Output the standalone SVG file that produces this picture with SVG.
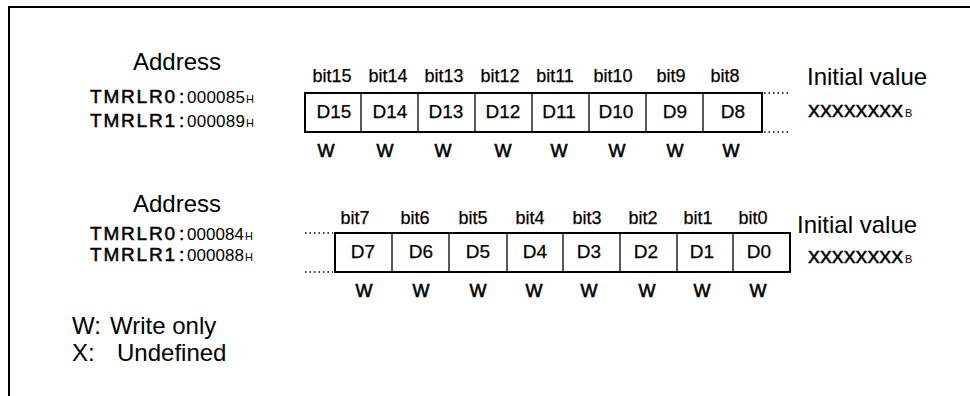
<svg xmlns="http://www.w3.org/2000/svg" width="970" height="396" viewBox="0 0 970 396">
<style>
text{font-family:"Liberation Sans",Arial,sans-serif;fill:#000}
.big{font-size:24px}
.bit{font-size:18px;text-anchor:middle;stroke:#000;stroke-width:0.25}
.d{font-size:19px;text-anchor:middle;stroke:#000;stroke-width:0.25}
.w{font-size:18px;text-anchor:middle;stroke:#000;stroke-width:0.6}
.reg{font-size:19px;stroke:#000;stroke-width:0.5}
.addr{font-size:17px}
.sub{font-size:11px}
.xs{font-size:22px;stroke:#000;stroke-width:0.3}
.box{fill:#fff;stroke:#000;stroke-width:2}
.sep{stroke:#000;stroke-width:1.3}
.dot{stroke:#000;stroke-width:1.5;stroke-dasharray:1.5 3}
</style>
<path d="M9,396 V7 H970" fill="none" stroke="#000" stroke-width="2"/>

<g id="upper-address">
<text class="big" x="133" y="70">Address</text>
<text class="reg" x="90" y="103" textLength="85" lengthAdjust="spacing">TMRLR0</text>
<text class="reg" x="179" y="103">:</text>
<text class="addr" x="187" y="103" textLength="58" lengthAdjust="spacing">000085</text>
<text class="sub" x="246" y="103">H</text>
<text class="reg" x="90" y="127" textLength="85" lengthAdjust="spacing">TMRLR1</text>
<text class="reg" x="179" y="127">:</text>
<text class="addr" x="187" y="127" textLength="58" lengthAdjust="spacing">000089</text>
<text class="sub" x="246" y="127">H</text>
</g>

<g id="upper-register">
<rect class="box" x="305" y="93" width="457" height="39"/>
<path class="sep" d="M361,93V132M418,93V132M475,93V132M532,93V132M589,93V132M646,93V132M703,93V132"/>
<text class="bit" x="332" y="82">bit15</text>
<text class="bit" x="388" y="82">bit14</text>
<text class="bit" x="444" y="82">bit13</text>
<text class="bit" x="500" y="82">bit12</text>
<text class="bit" x="555" y="82">bit11</text>
<text class="bit" x="613" y="82">bit10</text>
<text class="bit" x="671" y="82">bit9</text>
<text class="bit" x="725" y="82">bit8</text>
<text class="d" x="334" y="118">D15</text>
<text class="d" x="390" y="118">D14</text>
<text class="d" x="446" y="118">D13</text>
<text class="d" x="503" y="118">D12</text>
<text class="d" x="559" y="118">D11</text>
<text class="d" x="616" y="118">D10</text>
<text class="d" x="675" y="118">D9</text>
<text class="d" x="733" y="118">D8</text>
<text class="w" x="326" y="157">W</text>
<text class="w" x="385" y="157">W</text>
<text class="w" x="443" y="157">W</text>
<text class="w" x="503" y="157">W</text>
<text class="w" x="559" y="157">W</text>
<text class="w" x="617" y="157">W</text>
<text class="w" x="675" y="157">W</text>
<text class="w" x="731" y="157">W</text>
<path class="dot" d="M764,93H790M764,132H790"/>
<text class="big" x="807" y="85">Initial value</text>
<text class="xs" x="808" y="117" textLength="95" lengthAdjust="spacingAndGlyphs">xxxxxxxx</text>
<text class="sub" x="905" y="117">B</text>
</g>

<g id="lower-address">
<text class="big" x="133" y="212">Address</text>
<text class="reg" x="90" y="240" textLength="85" lengthAdjust="spacing">TMRLR0</text>
<text class="reg" x="179" y="240">:</text>
<text class="addr" x="187" y="240" textLength="57" lengthAdjust="spacing">000084</text>
<text class="sub" x="245" y="240">H</text>
<text class="reg" x="90" y="261" textLength="85" lengthAdjust="spacing">TMRLR1</text>
<text class="reg" x="179" y="261">:</text>
<text class="addr" x="187" y="261" textLength="57" lengthAdjust="spacing">000088</text>
<text class="sub" x="245" y="261">H</text>
</g>

<g id="lower-register">
<rect class="box" x="335" y="233" width="455" height="39"/>
<path class="sep" d="M392,233V272M449,233V272M507,233V272M563,233V272M620,233V272M677,233V272M733,233V272"/>
<text class="bit" x="355" y="224">bit7</text>
<text class="bit" x="415" y="224">bit6</text>
<text class="bit" x="473" y="224">bit5</text>
<text class="bit" x="530" y="224">bit4</text>
<text class="bit" x="587" y="224">bit3</text>
<text class="bit" x="643" y="224">bit2</text>
<text class="bit" x="698" y="224">bit1</text>
<text class="bit" x="753" y="224">bit0</text>
<text class="d" x="363" y="258">D7</text>
<text class="d" x="421" y="258">D6</text>
<text class="d" x="478" y="258">D5</text>
<text class="d" x="535" y="258">D4</text>
<text class="d" x="589" y="258">D3</text>
<text class="d" x="646" y="258">D2</text>
<text class="d" x="702" y="258">D1</text>
<text class="d" x="759" y="258">D0</text>
<text class="w" x="364" y="297">W</text>
<text class="w" x="421" y="297">W</text>
<text class="w" x="478" y="297">W</text>
<text class="w" x="534" y="297">W</text>
<text class="w" x="589" y="297">W</text>
<text class="w" x="647" y="297">W</text>
<text class="w" x="702" y="297">W</text>
<text class="w" x="758" y="297">W</text>
<path class="dot" d="M305,233H333M305,272H333"/>
<text class="big" x="797" y="233">Initial value</text>
<text class="xs" x="808" y="263" textLength="95" lengthAdjust="spacingAndGlyphs">xxxxxxxx</text>
<text class="sub" x="905" y="263">B</text>
</g>

<g id="legend">
<text class="big" x="72" y="334">W:</text>
<text class="big" x="110" y="334">Write only</text>
<text class="big" x="72" y="361">X:</text>
<text class="big" x="117" y="361">Undefined</text>
</g>
</svg>
